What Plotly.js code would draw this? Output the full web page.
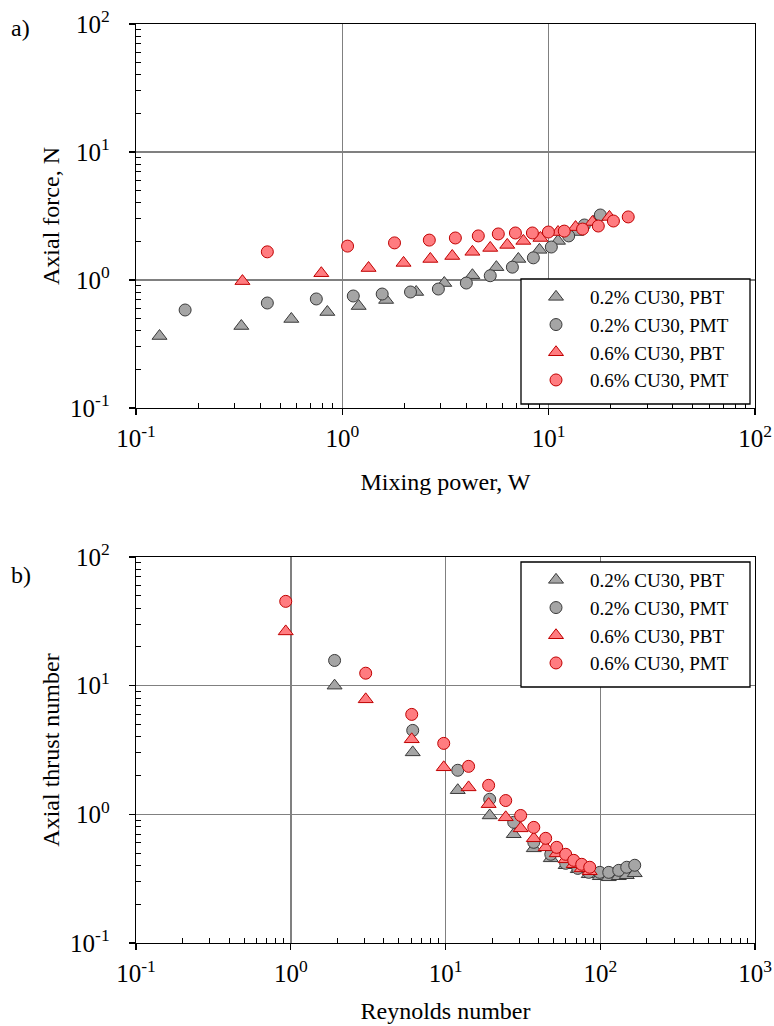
<!DOCTYPE html>
<html>
<head>
<meta charset="utf-8">
<script src="https://cdn.plot.ly/plotly-3.0.1.min.js"></script>
<style>html,body{margin:0;padding:0;background:#fff;}#chart{width:774px;height:1026px;}</style>
</head>
<body>
<div id="chart"></div>
<script>
// ---- Panel a: axial force vs mixing power ----
const seriesNames = ['0.2% CU30, PBT', '0.2% CU30, PMT', '0.6% CU30, PBT', '0.6% CU30, PMT'];

const aPowerPBT02 = [0.130, 0.324, 0.566, 0.846, 1.20, 1.63, 2.28, 3.12, 4.27, 5.58, 7.13, 9.02, 11.1, 13.6, 16.5];
const aForcePBT02 = [0.365, 0.437, 0.496, 0.562, 0.626, 0.698, 0.806, 0.947, 1.09, 1.26, 1.46, 1.72, 2.02, 2.37, 2.84];
const aPowerPMT02 = [0.173, 0.433, 0.748, 1.13, 1.56, 2.14, 2.92, 3.99, 5.21, 6.67, 8.43, 10.3, 12.5, 14.9, 17.8];
const aForcePMT02 = [0.583, 0.661, 0.711, 0.750, 0.777, 0.806, 0.850, 0.947, 1.08, 1.26, 1.49, 1.81, 2.21, 2.69, 3.22];
const aPowerPBT06 = [0.328, 0.791, 1.34, 1.98, 2.67, 3.41, 4.27, 5.21, 6.30, 7.54, 9.12, 11.1, 13.5, 16.3, 19.7];
const aForcePBT06 = [0.98, 1.13, 1.24, 1.36, 1.46, 1.54, 1.66, 1.78, 1.88, 2.02, 2.13, 2.37, 2.59, 2.84, 3.11];
const aPowerPMT06 = [0.433, 1.06, 1.79, 2.64, 3.53, 4.56, 5.70, 6.90, 8.34, 9.97, 11.9, 14.6, 17.4, 20.6, 24.3];
const aForcePMT06 = [1.66, 1.84, 1.95, 2.05, 2.13, 2.21, 2.29, 2.33, 2.33, 2.37, 2.41, 2.50, 2.64, 2.89, 3.11];

// ---- Panel b: axial thrust number vs Reynolds number ----
const bRe02 = [1.92, 6.14, 12.0, 19.3, 27.6, 37.2, 47.9, 59.8, 71.6, 84.3, 99.3, 113.5, 131.7, 148.3, 167];
const bNtPBT02 = [10.0, 3.03, 1.54, 0.98, 0.70, 0.544, 0.455, 0.402, 0.374, 0.342, 0.330, 0.324, 0.330, 0.336, 0.348];
const bNtPMT02 = [15.7, 4.49, 2.20, 1.31, 0.867, 0.606, 0.489, 0.416, 0.380, 0.354, 0.354, 0.354, 0.367, 0.388, 0.402];
const bRe06 = [0.928, 3.05, 6.05, 9.74, 14.1, 19.0, 24.5, 30.6, 37.2, 44.4, 52.3, 59.8, 67.4, 75.9, 85.5];
const bNtPBT06 = [26.4, 7.83, 3.83, 2.32, 1.62, 1.20, 0.948, 0.778, 0.651, 0.554, 0.497, 0.447, 0.409, 0.380, 0.361];
const bNtPMT06 = [45.2, 12.5, 5.98, 3.56, 2.36, 1.68, 1.28, 0.98, 0.792, 0.651, 0.554, 0.489, 0.439, 0.409, 0.388];

// tick labels
const decadeValsA = [0.1, 1, 10, 100];
const decadeTextA = ['10<sup>-1</sup>', '10<sup>0</sup>', '10<sup>1</sup>', '10<sup>2</sup>'];
const decadeValsB = [0.1, 1, 10, 100, 1000];
const decadeTextB = ['10<sup>-1</sup>', '10<sup>0</sup>', '10<sup>1</sup>', '10<sup>2</sup>', '10<sup>3</sup>'];

const FONT = '"Liberation Serif", "Times New Roman", serif';
const TICK_SIZE = 25, TITLE_SIZE = 24, LEGEND_SIZE = 19;
const gray = {fill: '#a5a5a5', line: '#3a3a3a'};
const red = {fill: '#ff7c80', line: '#c00000'};

function minorVals(lo, hi) {
  const v = [];
  for (let e = lo; e < hi; e++) for (let d = 2; d <= 9; d++) v.push(d * Math.pow(10, e));
  return v;
}

function mk(x, y, name, sym, col, xa, ya, leg) {
  return {
    x: x, y: y, name: name, type: 'scatter', mode: 'markers',
    xaxis: xa, yaxis: ya, legend: leg, showlegend: true,
    marker: {symbol: sym, size: sym === 'circle' ? 12 : 13, color: col.fill, line: {color: col.line, width: 1}}
  };
}

const traces = [
  mk(aPowerPBT02, aForcePBT02, seriesNames[0], 'triangle-up', gray, 'x', 'y', 'legend'),
  mk(aPowerPMT02, aForcePMT02, seriesNames[1], 'circle', gray, 'x', 'y', 'legend'),
  mk(aPowerPBT06, aForcePBT06, seriesNames[2], 'triangle-up', red, 'x', 'y', 'legend'),
  mk(aPowerPMT06, aForcePMT06, seriesNames[3], 'circle', red, 'x', 'y', 'legend'),
  mk(bRe02, bNtPBT02, seriesNames[0], 'triangle-up', gray, 'x2', 'y2', 'legend2'),
  mk(bRe02, bNtPMT02, seriesNames[1], 'circle', gray, 'x2', 'y2', 'legend2'),
  mk(bRe06, bNtPBT06, seriesNames[2], 'triangle-up', red, 'x2', 'y2', 'legend2'),
  mk(bRe06, bNtPMT06, seriesNames[3], 'circle', red, 'x2', 'y2', 'legend2')
];

function axis(common) {
  return Object.assign({
    type: 'log', showline: true, linecolor: '#000', linewidth: 1.3, mirror: true,
    showgrid: true, gridcolor: '#808080', gridwidth: 1.5, zeroline: false,
    ticks: 'outside', ticklen: 6, tickwidth: 1.3, tickcolor: '#000',
    tickfont: {family: FONT, size: TICK_SIZE, color: '#000'},
    tickmode: 'array'
  }, common);
}

const W = 774, H = 1026;
const px = v => v / W, py = v => 1 - v / H;
const minorCfg = (lo, hi) => ({tickmode: 'array', tickvals: minorVals(lo, hi), ticks: 'inside', ticklen: 5, tickwidth: 1, tickcolor: '#000', showgrid: false});

const layout = {
  width: W, height: H,
  margin: {l: 0, r: 0, t: 0, b: 0},
  paper_bgcolor: '#fff', plot_bgcolor: '#fff',
  font: {family: FONT, size: TITLE_SIZE, color: '#000'},
  xaxis: axis({
    domain: [px(136), px(755)], anchor: 'y', range: [-1, 2],
    tickvals: decadeValsA, ticktext: decadeTextA, ticklabelstandoff: 2,
    minor: minorCfg(-1, 2),
    title: {text: 'Mixing power, W', font: {family: FONT, size: TITLE_SIZE}, standoff: 22}
  }),
  yaxis: axis({
    domain: [py(408), py(24)], anchor: 'x', range: [-1, 2],
    tickvals: decadeValsA, ticktext: decadeTextA, ticklabelstandoff: 14,
    minor: minorCfg(-1, 2),
    title: {text: 'Axial force, N', font: {family: FONT, size: TITLE_SIZE}, standoff: 3}
  }),
  xaxis2: axis({
    domain: [px(136), px(755)], anchor: 'y2', range: [-1, 3],
    tickvals: decadeValsB, ticktext: decadeTextB, ticklabelstandoff: 2,
    minor: minorCfg(-1, 3),
    title: {text: 'Reynolds number', font: {family: FONT, size: TITLE_SIZE}, standoff: 16}
  }),
  yaxis2: axis({
    domain: [py(943), py(557)], anchor: 'x2', range: [-1, 2],
    tickvals: decadeValsA, ticktext: decadeTextA, ticklabelstandoff: 14,
    minor: minorCfg(-1, 2),
    title: {text: 'Axial thrust number', font: {family: FONT, size: TITLE_SIZE}, standoff: 3}
  }),
  shapes: [
    {type: 'rect', xref: 'paper', yref: 'paper', x0: px(521), x1: px(750), y0: py(404), y1: py(279),
     fillcolor: '#fff', line: {color: '#000', width: 1.3}, layer: 'above'},
    {type: 'rect', xref: 'paper', yref: 'paper', x0: px(521), x1: px(750), y0: py(687), y1: py(562),
     fillcolor: '#fff', line: {color: '#000', width: 1.3}, layer: 'above'}
  ],
  legend: {x: px(522), y: py(278), xanchor: 'left', yanchor: 'top', bgcolor: 'rgba(0,0,0,0)', borderwidth: 0,
           font: {family: FONT, size: LEGEND_SIZE, color: '#000'}, itemwidth: 58, traceorder: 'normal'},
  legend2: {x: px(522), y: py(561), xanchor: 'left', yanchor: 'top', bgcolor: 'rgba(0,0,0,0)', borderwidth: 0,
           font: {family: FONT, size: LEGEND_SIZE, color: '#000'}, itemwidth: 58, traceorder: 'normal'},
  annotations: [
    {text: 'a)', xref: 'paper', yref: 'paper', x: px(9), y: py(28), xanchor: 'left', yanchor: 'middle', showarrow: false, font: {family: FONT, size: 24}},
    {text: 'b)', xref: 'paper', yref: 'paper', x: px(9), y: py(575), xanchor: 'left', yanchor: 'middle', showarrow: false, font: {family: FONT, size: 24}}
  ]
};

Plotly.newPlot('chart', traces, layout, {displayModeBar: false, staticPlot: true});
</script>
</body>
</html>
